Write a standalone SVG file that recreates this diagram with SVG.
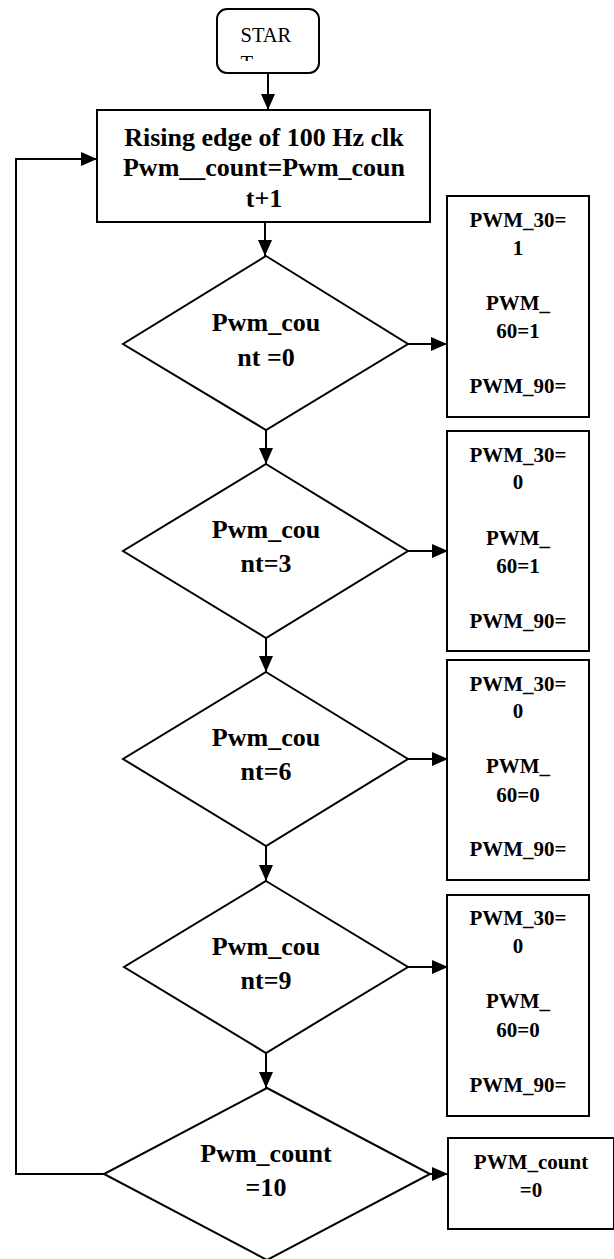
<svg xmlns="http://www.w3.org/2000/svg" width="614" height="1259" viewBox="0 0 614 1259">
<style>
.shape{fill:#fff;stroke:#000;stroke-width:2}
.conn{fill:none;stroke:#000;stroke-width:2}
.t{font-family:"Liberation Serif","Times New Roman",serif;font-weight:bold;fill:#000;text-anchor:middle}
.big{font-size:26px}
.small{font-size:21px}
.start{font-family:"Liberation Serif","Times New Roman",serif;font-size:20.5px;fill:#000}
</style>
<defs>
<marker id="arr" markerUnits="userSpaceOnUse" markerWidth="16" markerHeight="14" refX="16" refY="7" orient="auto">
<path d="M0,0 L16,7 L0,14 z" fill="#000"/>
</marker>
<clipPath id="startclip"><rect x="218" y="10" width="100" height="51"/></clipPath>
</defs>
<g id="connectors">
<line class="conn" x1="268" y1="73" x2="268" y2="110" marker-end="url(#arr)"/>
<line class="conn" x1="265" y1="222" x2="265" y2="256" marker-end="url(#arr)"/>
<line class="conn" x1="266" y1="430" x2="266" y2="464" marker-end="url(#arr)"/>
<line class="conn" x1="266" y1="638" x2="266" y2="672" marker-end="url(#arr)"/>
<line class="conn" x1="266" y1="846" x2="266" y2="881" marker-end="url(#arr)"/>
<line class="conn" x1="266" y1="1053" x2="266" y2="1088" marker-end="url(#arr)"/>
<line class="conn" x1="408" y1="344" x2="447" y2="344" marker-end="url(#arr)"/>
<line class="conn" x1="408" y1="551" x2="448" y2="551" marker-end="url(#arr)"/>
<line class="conn" x1="408" y1="759" x2="448" y2="759" marker-end="url(#arr)"/>
<line class="conn" x1="408" y1="967" x2="448" y2="967" marker-end="url(#arr)"/>
<line class="conn" x1="430" y1="1174" x2="448" y2="1174" marker-end="url(#arr)"/>
<polyline class="conn" points="104,1174 16,1174 16,159 97,159" marker-end="url(#arr)"/>
</g>
<g id="start">
<rect class="shape" x="217" y="9" width="102" height="64" rx="10" ry="10"/>
<g clip-path="url(#startclip)">
<text class="start" x="240.5" y="42">STAR</text>
<text class="start" x="240.5" y="69.5">T</text>
</g>
</g>
<g id="process">
<rect class="shape" x="97" y="110" width="333" height="112"/>
<text class="t big" x="264" y="146">Rising edge of 100 Hz clk</text>
<text class="t big" x="264" y="176">Pwm__count=Pwm_coun</text>
<text class="t big" x="264" y="207">t+1</text>
</g>
<g id="d1">
<polygon class="shape" points="266,256 408,344 266,430 123,344"/>
<text class="t big" x="266" y="331">Pwm_cou</text>
<text class="t big" x="266" y="366">nt =0</text>
</g>
<g id="d2">
<polygon class="shape" points="266,464 408,551 266,638 123,551"/>
<text class="t big" x="266" y="538">Pwm_cou</text>
<text class="t big" x="266" y="572">nt=3</text>
</g>
<g id="d3">
<polygon class="shape" points="266,672 408,759 266,846 123,759"/>
<text class="t big" x="266" y="746">Pwm_cou</text>
<text class="t big" x="266" y="780">nt=6</text>
</g>
<g id="d4">
<polygon class="shape" points="266,881 408,967 266,1053 124,967"/>
<text class="t big" x="266" y="955">Pwm_cou</text>
<text class="t big" x="266" y="989">nt=9</text>
</g>
<g id="d5">
<polygon class="shape" points="267,1088 430,1174 267,1260 104,1174"/>
<text class="t big" x="266" y="1162">Pwm_count</text>
<text class="t big" x="266" y="1196">=10</text>
</g>
<g id="box1">
<rect class="shape" x="447" y="196" width="142" height="221"/>
<text class="t small" x="518" y="227">PWM_30=</text>
<text class="t small" x="518" y="255">1</text>
<text class="t small" x="518" y="310">PWM_</text>
<text class="t small" x="518" y="338">60=1</text>
<text class="t small" x="518" y="393">PWM_90=</text>
</g>
<g id="box2">
<rect class="shape" x="447" y="431" width="142" height="220"/>
<text class="t small" x="518" y="462">PWM_30=</text>
<text class="t small" x="518" y="489">0</text>
<text class="t small" x="518" y="545">PWM_</text>
<text class="t small" x="518" y="573">60=1</text>
<text class="t small" x="518" y="628">PWM_90=</text>
</g>
<g id="box3">
<rect class="shape" x="447" y="660" width="142" height="220"/>
<text class="t small" x="518" y="691">PWM_30=</text>
<text class="t small" x="518" y="718">0</text>
<text class="t small" x="518" y="773">PWM_</text>
<text class="t small" x="518" y="802">60=0</text>
<text class="t small" x="518" y="856">PWM_90=</text>
</g>
<g id="box4">
<rect class="shape" x="447" y="895" width="142" height="221"/>
<text class="t small" x="518" y="925">PWM_30=</text>
<text class="t small" x="518" y="953">0</text>
<text class="t small" x="518" y="1008">PWM_</text>
<text class="t small" x="518" y="1037">60=0</text>
<text class="t small" x="518" y="1092">PWM_90=</text>
</g>
<g id="box5">
<rect class="shape" x="448" y="1138" width="166" height="91"/>
<text class="t small" x="531" y="1169">PWM_count</text>
<text class="t small" x="531" y="1197">=0</text>
</g>
</svg>
